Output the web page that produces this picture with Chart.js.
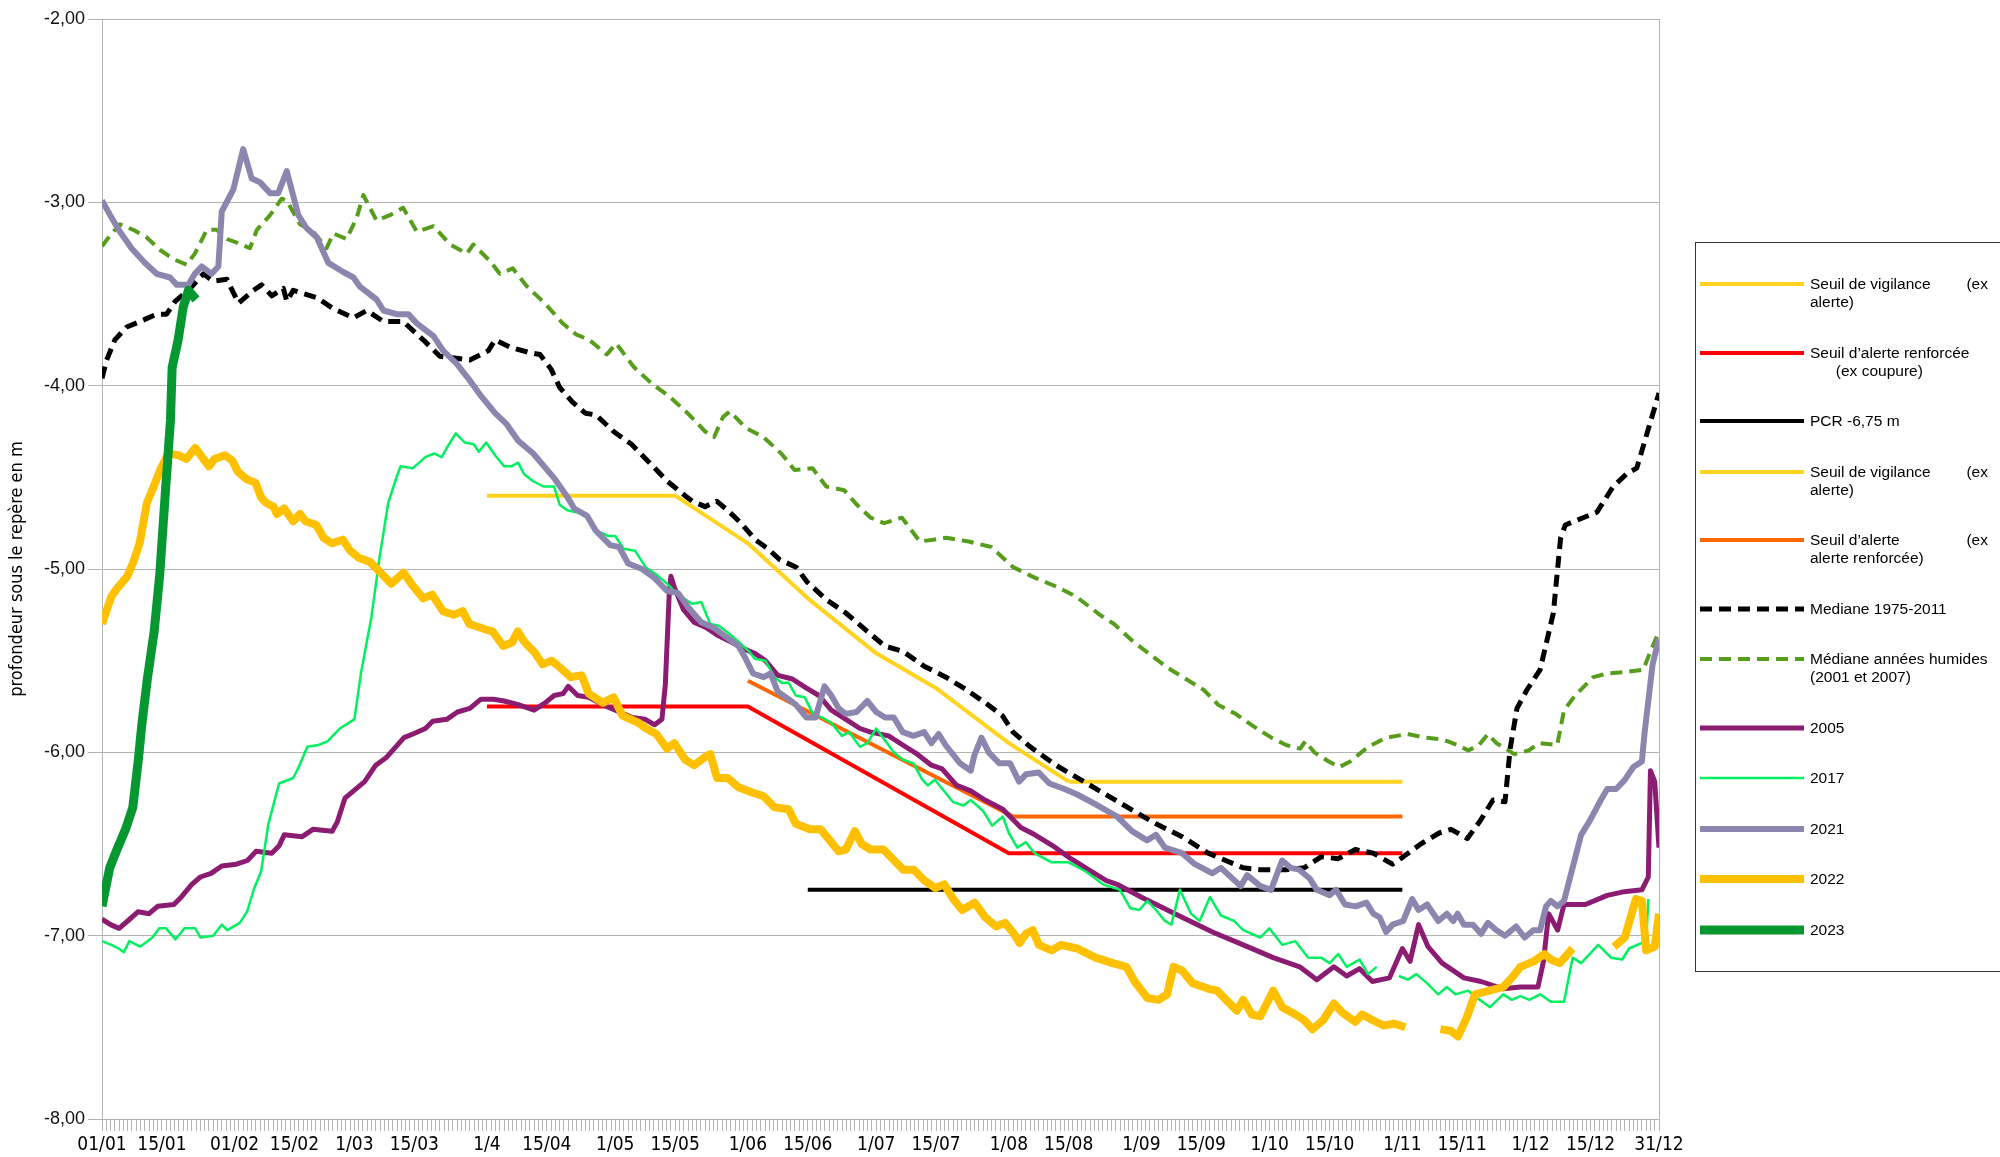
<!DOCTYPE html>
<html lang="fr">
<head>
<meta charset="utf-8">
<title>Profondeur de la nappe</title>
<script src="https://cdn.jsdelivr.net/npm/chart.js@4.4.1/dist/chart.umd.min.js"></script>
<style>
    html, body { margin: 0; padding: 0; background: #fff; }
    #wrap { position: relative; width: 2000px; height: 1157px; overflow: hidden; }
    #chart { position: absolute; left: 0; top: 0; }
    #legend {
        position: absolute; left: 1695px; top: 242px; width: 330px; height: 730px;
        box-sizing: border-box; border: 1px solid #333; padding-top: 32px;
        font-family: 'Liberation Sans', Arial, sans-serif; font-size: 15.5px; color: #000;
    }
    .item { display: flex; align-items: flex-start; margin-bottom: 32.5px; }
    .item svg { margin-left: 4px; margin-right: 6px; flex: none; }
    .txt { width: 178px; line-height: 18px; }
    .txt div { white-space: pre; }
    .txt .split { display: flex; justify-content: space-between; }
</style>
</head>
<body>
<div id="wrap">
    <canvas id="chart" width="2000" height="1157"></canvas>
    <div id="legend"></div>
</div>
<script>
//x axis labels (day of year, 0 = 01/01)
const dayTicks = [0, 14, 31, 45, 59, 73, 90, 104, 120, 134, 151, 165, 181, 195, 212, 226, 243, 257, 273, 287, 304, 318, 334, 348, 364];
const dayLabels = ['01/01', '15/01', '01/02', '15/02', '1/03', '15/03', '1/4', '15/04', '1/05', '15/05', '1/06', '15/06',
    '1/07', '15/07', '1/08', '15/08', '1/09', '15/09', '1/10', '15/10', '1/11', '15/11', '1/12', '15/12', '31/12'];

const seriesLabels = ['Seuil de vigilance (ex alerte)', 'Seuil d’alerte renforcée (ex coupure)', 'PCR -6,75 m',
    'Seuil de vigilance (ex alerte)', 'Seuil d’alerte (ex alerte renforcée)', 'Mediane 1975-2011',
    'Médiane années humides (2001 et 2007)', '2005', '2017', '2021', '2022', '2023'];
//legend text as displayed: | = new line, \t = pushed to the right
const legendText = ['Seuil de vigilance\t(ex|alerte)', 'Seuil d’alerte renforcée|      (ex coupure)', 'PCR -6,75 m',
    'Seuil de vigilance\t(ex|alerte)', 'Seuil d’alerte\t(ex|alerte renforcée)', 'Mediane 1975-2011',
    'Médiane années humides|(2001 et 2007)', '2005', '2017', '2021', '2022', '2023'];

//thresholds [day, m]
const seuilVigilance = [[90, -4.6], [134, -4.6], [151, -4.86], [165, -5.16], [181, -5.46], [195, -5.65], [212, -5.95], [226, -6.16]];
const seuilRenforcee = [[90, -5.75], [151, -5.75], [212, -6.55], [304, -6.55]];
const pcr = [[165, -6.75], [304, -6.75]];
const seuilVigilanceBis = [[226, -6.16], [304, -6.16]];
const seuilAlerte = [[151, -5.61], [213, -6.35], [304, -6.35]];

//medians [day, m]
const mediane7511 = [[0, -3.96], [1.1, -3.86], [3, -3.75], [5.8, -3.68], [8.9, -3.65], [12.8, -3.61], [15.1, -3.61], [17.1, -3.54],
    [20.6, -3.47], [23.7, -3.39], [26, -3.43], [29.2, -3.42], [31.9, -3.55], [35.4, -3.48], [37.3, -3.45], [39.7, -3.51],
    [42.4, -3.47], [43.2, -3.54], [44.7, -3.48], [50.2, -3.52], [54.1, -3.58], [58.8, -3.63], [61.9, -3.59], [65.8, -3.65],
    [70.4, -3.65], [75.1, -3.75], [79, -3.84], [82.9, -3.85], [86, -3.86], [90.3, -3.81], [91.9, -3.75], [95.4, -3.79],
    [100, -3.82], [102.4, -3.83], [105, -3.91], [107, -4.01], [110, -4.09], [113, -4.15], [115.5, -4.16], [119.6, -4.25],
    [123.8, -4.32], [128, -4.42], [132.1, -4.52], [136.3, -4.6], [138, -4.63], [141, -4.66], [143.7, -4.63], [146.3, -4.68],
    [149.4, -4.75], [152.7, -4.84], [155.7, -4.89], [158.5, -4.95], [162.3, -4.99], [164.8, -5.07], [169.5, -5.17],
    [173.9, -5.24], [178.9, -5.34], [183, -5.42], [187.3, -5.45], [192.2, -5.53], [197.3, -5.59], [201.5, -5.65],
    [206.5, -5.73], [210.5, -5.8], [213, -5.89], [217, -5.97], [223, -6.07], [230.3, -6.17], [238.3, -6.28], [246.4, -6.39],
    [252.5, -6.46], [258.6, -6.55], [262.7, -6.59], [266.8, -6.63], [270.8, -6.64], [276.8, -6.64], [281, -6.63], [285, -6.57],
    [289, -6.58], [293, -6.53], [297.2, -6.55], [301.7, -6.61], [304.2, -6.57], [308.3, -6.5], [312.6, -6.44], [315.4, -6.42],
    [319.2, -6.47], [322.3, -6.37], [325.2, -6.26], [328, -6.27], [329.2, -5.98], [330.8, -5.76], [333.1, -5.66], [336.2, -5.55],
    [339.3, -5.24], [341, -4.83], [342.1, -4.76], [349.5, -4.69], [353.3, -4.55], [356.5, -4.48], [358.8, -4.45], [361.2, -4.26],
    [364, -4.04]];
const medianeHumides = [[0, -3.24], [1.9, -3.18], [4.2, -3.12], [7.3, -3.15], [10.4, -3.19], [13.6, -3.26], [16.7, -3.31],
    [19.8, -3.34], [21.7, -3.28], [24.5, -3.15], [26.8, -3.15], [29.2, -3.2], [31.5, -3.22], [34.6, -3.25], [36.2, -3.15],
    [39.3, -3.07], [42, -2.98], [43.2, -2.99], [46.3, -3.12], [49.4, -3.16], [52.5, -3.25], [54.1, -3.17], [57.2, -3.2],
    [59.6, -3.08], [61.1, -2.96], [64.2, -3.1], [67.3, -3.07], [70.4, -3.03], [73.6, -3.16], [77.5, -3.13], [81.4, -3.23],
    [85.3, -3.28], [86.8, -3.23], [90.7, -3.32], [93, -3.39], [96, -3.36], [99.4, -3.46], [103.5, -3.55], [107.7, -3.66],
    [110.8, -3.72], [113.9, -3.75], [118, -3.83], [120.2, -3.77], [124.4, -3.9], [128.6, -3.99], [132.7, -4.06], [136.9, -4.15],
    [141, -4.25], [143.1, -4.28], [145.2, -4.17], [146.8, -4.14], [150.5, -4.23], [154.6, -4.28], [158.8, -4.37], [161.9, -4.46],
    [166.1, -4.45], [169.3, -4.55], [173.5, -4.57], [176.5, -4.65], [179.7, -4.72], [182.8, -4.75], [187, -4.72], [191.2, -4.85],
    [194.3, -4.84], [197.4, -4.83], [202.6, -4.85], [207.9, -4.88], [213, -4.99], [218.3, -5.05], [223.5, -5.1], [227.7, -5.15],
    [233.3, -5.25], [236.6, -5.3], [240.8, -5.39], [244.1, -5.45], [249.2, -5.54], [253.4, -5.6], [257.6, -5.66], [260.9, -5.74],
    [265, -5.79], [269.3, -5.86], [273.4, -5.92], [276.8, -5.96], [280.1, -5.98], [281.3, -5.94], [283.4, -6.0], [286.8, -6.05],
    [289.3, -6.08], [291.8, -6.05], [296, -5.97], [300.2, -5.92], [305.2, -5.9], [309.3, -5.92], [313.5, -5.93], [316.9, -5.96],
    [319.4, -5.99], [321.9, -5.96], [324, -5.9], [326, -5.95], [330.2, -6.01], [333.5, -5.99], [336, -5.95], [340.2, -5.96],
    [341.8, -5.77], [344.4, -5.69], [348.6, -5.59], [351.9, -5.57], [356.9, -5.56], [360.3, -5.55], [362, -5.45], [364, -5.34]];

//years [day, m]
const an2005 = [[0, -6.91], [2, -6.94], [4, -6.96], [6, -6.92], [8.4, -6.87], [11, -6.88], [13, -6.84], [16.8, -6.83], [18.5, -6.79],
    [21, -6.72], [23, -6.68], [25.5, -6.66], [28, -6.62], [31.4, -6.61], [34, -6.59], [36, -6.54], [39.7, -6.55], [41.4, -6.51],
    [42.6, -6.45], [46.8, -6.46], [49.3, -6.42], [53.8, -6.43], [55, -6.38], [56.8, -6.25], [61.4, -6.16], [64, -6.07],
    [66.4, -6.03], [70.6, -5.92], [72.7, -5.9], [75.6, -5.87], [77.3, -5.83], [80.6, -5.82], [83.1, -5.78], [86, -5.76],
    [88.6, -5.71], [91.5, -5.71], [94, -5.72], [97.3, -5.74], [101, -5.77], [103.6, -5.73], [105.7, -5.69], [107.8, -5.68],
    [109, -5.64], [111.2, -5.69], [113.8, -5.7], [117, -5.74], [121, -5.78], [124, -5.81], [127, -5.82], [129.2, -5.85],
    [130.9, -5.82], [131.7, -5.63], [132.6, -5.14], [133, -5.04], [133.8, -5.1], [135.9, -5.22], [138.4, -5.29], [141.3, -5.32],
    [143.8, -5.36], [147.2, -5.4], [150.5, -5.44], [152.6, -5.46], [155.1, -5.5], [158, -5.58], [161.4, -5.6], [164.7, -5.65],
    [167.6, -5.69], [170.5, -5.77], [173.9, -5.82], [177.2, -5.87], [179.7, -5.89], [183.9, -5.91], [187.2, -5.96], [190.6, -6.01],
    [193.9, -6.07], [196.4, -6.09], [199.8, -6.18], [203.1, -6.21], [206.4, -6.26], [210.6, -6.31], [214.8, -6.41], [218.1, -6.45],
    [222.3, -6.51], [226.5, -6.58], [230.6, -6.64], [234.8, -6.7], [237.3, -6.72], [243, -6.79], [252.5, -6.9], [259.6, -6.98],
    [266.8, -7.05], [273.8, -7.12], [280, -7.17], [284, -7.24], [288, -7.17], [291, -7.22], [294, -7.18], [297, -7.25],
    [301, -7.23], [304, -7.07], [305.8, -7.14], [307.8, -6.94], [310, -7.06], [313.3, -7.15], [318.4, -7.23], [322.4, -7.25],
    [327.6, -7.29], [331.6, -7.28], [335.7, -7.28], [337, -7.14], [338.2, -6.88], [340.3, -6.97], [341.8, -6.83], [346.8, -6.83],
    [351.9, -6.78], [355.9, -6.76], [360, -6.75], [361.5, -6.68], [362, -6.1], [363, -6.16], [364, -6.52]];
const an2017 = [[0, -7.03], [2.2, -7.05], [3.9, -7.07], [5.1, -7.09], [6.4, -7.03], [8.9, -7.06], [11.8, -7.01], [13.4, -6.96],
    [15, -6.96], [17.2, -7.02], [19.3, -6.96], [21.8, -6.96], [23, -7.01], [26, -7.0], [28, -6.94], [29.3, -6.97], [32.2, -6.93],
    [33.9, -6.87], [35.6, -6.74], [37.2, -6.65], [38.9, -6.39], [41.4, -6.17], [44.7, -6.14], [46, -6.08], [48, -5.97],
    [50.6, -5.96], [52.7, -5.94], [55.6, -5.87], [59, -5.82], [60.6, -5.56], [63, -5.26], [64.8, -4.95], [66.9, -4.64],
    [69, -4.49], [69.8, -4.44], [72.7, -4.45], [75.6, -4.39], [77.7, -4.37], [79.4, -4.39], [80.6, -4.34], [82.7, -4.26],
    [84.8, -4.31], [86.9, -4.32], [88.1, -4.36], [89.8, -4.31], [91.9, -4.38], [94, -4.44], [95.7, -4.44], [97.3, -4.42],
    [98.6, -4.48], [100.7, -4.52], [103.2, -4.55], [105.7, -4.55], [107, -4.65], [108.8, -4.68], [110.9, -4.69], [113, -4.71],
    [115.4, -4.79], [118.4, -4.82], [120, -4.82], [122, -4.89], [124.6, -4.9], [127.1, -4.99], [129.6, -5.03], [132.1, -5.08],
    [134.6, -5.14], [138, -5.19], [140.1, -5.18], [142.2, -5.3], [144.2, -5.31], [145.9, -5.34], [148, -5.38], [151.3, -5.45],
    [152.6, -5.49], [155.1, -5.5], [157.2, -5.59], [158.9, -5.62], [160.5, -5.62], [162.2, -5.69], [164.3, -5.7], [166.4, -5.8],
    [168.4, -5.81], [170.5, -5.84], [173, -5.91], [174.7, -5.89], [177.2, -5.97], [178.9, -5.95], [181, -5.87], [182.6, -5.92],
    [185.1, -6.0], [187.2, -6.04], [189.7, -6.06], [191.8, -6.15], [193.1, -6.18], [194.7, -6.15], [196.8, -6.21], [198.9, -6.27],
    [201.4, -6.29], [203.1, -6.26], [206, -6.32], [208.1, -6.4], [210.6, -6.35], [212, -6.44], [214, -6.52], [216, -6.49],
    [218, -6.55], [222, -6.6], [226, -6.6], [230, -6.65], [234, -6.72], [238, -6.75], [240.4, -6.85], [242.5, -6.86],
    [244.4, -6.81], [246.4, -6.86], [248.5, -6.92], [250, -6.94], [252, -6.75], [254.6, -6.88], [256.6, -6.92], [259, -6.79],
    [261.6, -6.89], [264.7, -6.92], [266.8, -6.97], [270.8, -7.01], [272.9, -6.96], [275.9, -7.05], [279, -7.03], [282, -7.12],
    [285, -7.12], [287, -7.15], [289, -7.1], [291, -7.17], [294, -7.13], [296, -7.21], [298, -7.17], [300, null], [303.2, -7.22],
    [305.3, -7.24], [307.3, -7.21], [309.8, -7.26], [312.4, -7.32], [314.4, -7.28], [316.4, -7.32], [319.4, -7.3], [321.5, -7.34],
    [324.5, -7.39], [327.6, -7.32], [329.6, -7.35], [331.6, -7.33], [333.7, -7.35], [336.2, -7.32], [338.7, -7.36], [341.8, -7.36],
    [343.8, -7.12], [345.8, -7.15], [349.8, -7.05], [352.8, -7.12], [355.4, -7.13], [357, -7.07], [361, -7.03], [361.5, -6.8]];
const an2021 = [[0, -2.99], [1.9, -3.07], [4.2, -3.16], [6.9, -3.25], [10, -3.33], [12.8, -3.39], [15.9, -3.41], [17.5, -3.45],
    [20.2, -3.45], [21.7, -3.39], [23.3, -3.35], [25.6, -3.39], [27.2, -3.35], [28, -3.05], [30.7, -2.93], [33, -2.71], [35, -2.87],
    [36.9, -2.89], [39.3, -2.95], [41.2, -2.95], [43.2, -2.83], [45.9, -3.07], [47.8, -3.14], [50.2, -3.19], [52.9, -3.33],
    [56.4, -3.38], [58.8, -3.41], [60.3, -3.46], [64.2, -3.53], [65.8, -3.59], [68.9, -3.61], [71.6, -3.61], [73.6, -3.66],
    [77.5, -3.73], [79.8, -3.81], [82.9, -3.88], [85.6, -3.96], [88.4, -4.05], [91.9, -4.15], [94.6, -4.21], [97.3, -4.3],
    [100.8, -4.37], [105.9, -4.51], [108.6, -4.6], [110.4, -4.67], [113.4, -4.71], [115.4, -4.79], [118.8, -4.87], [120.9, -4.88],
    [123, -4.97], [126.3, -5.0], [129.2, -5.05], [132.1, -5.12], [134.6, -5.13], [137.1, -5.21], [140.1, -5.29], [143, -5.32],
    [145.9, -5.37], [148.8, -5.42], [150.5, -5.49], [152.2, -5.57], [154.7, -5.59], [156.3, -5.57], [158, -5.67], [160.5, -5.71],
    [162.2, -5.74], [164.7, -5.81], [166.8, -5.81], [168.9, -5.64], [170.5, -5.69], [172.2, -5.76], [173.9, -5.79], [176.4, -5.78],
    [178.9, -5.72], [181, -5.78], [183.1, -5.81], [185.1, -5.81], [187.2, -5.89], [189.7, -5.91], [192.2, -5.89], [193.9, -5.95],
    [195.6, -5.9], [197.2, -5.96], [200.6, -6.06], [203.1, -6.1], [203.9, -6.02], [205.6, -5.92], [207.3, -6.0], [209.8, -6.06],
    [212.3, -6.06], [214.4, -6.16], [216, -6.12], [219, -6.11], [221.5, -6.17], [225, -6.2], [228, -6.23], [232, -6.28],
    [237.3, -6.35], [240.8, -6.43], [244.3, -6.48], [246.4, -6.45], [248.5, -6.52], [252.5, -6.55], [255.5, -6.61], [259.6, -6.66],
    [261.6, -6.63], [266.2, -6.73], [267.7, -6.67], [270.8, -6.73], [273.3, -6.75], [275.9, -6.59], [277.9, -6.63], [279.9, -6.64],
    [282.4, -6.69], [284, -6.75], [287, -6.78], [288.5, -6.75], [290.6, -6.83], [293.1, -6.84], [295.6, -6.82], [297.2, -6.88],
    [298.7, -6.9], [300.2, -6.98], [301.7, -6.94], [304.2, -6.92], [306.3, -6.8], [307.8, -6.86], [309.8, -6.83], [312.4, -6.92],
    [314.4, -6.88], [315.9, -6.92], [316.9, -6.88], [318.4, -6.94], [320.5, -6.94], [322.4, -6.99], [324, -6.93], [326, -6.97],
    [328, -7.0], [330.6, -6.95], [332.6, -7.01], [334.6, -6.97], [336.2, -6.97], [337.6, -6.84], [338.7, -6.81], [340.3, -6.84],
    [341.8, -6.81], [343.8, -6.63], [345.8, -6.45], [347.9, -6.37], [350.4, -6.26], [351.9, -6.2], [354, -6.2], [356, -6.15],
    [358, -6.08], [360, -6.05], [360.6, -5.9], [361.5, -5.72], [362.5, -5.52], [364, -5.38]];
const an2022 = [[0, -5.3], [2.2, -5.15], [3.4, -5.11], [5.9, -5.04], [7.2, -4.97], [8.8, -4.86], [10.5, -4.64], [12.6, -4.52],
    [13.8, -4.45], [15.5, -4.37], [18, -4.38], [19.7, -4.4], [21.8, -4.34], [23.4, -4.39], [25, -4.44], [26.3, -4.4], [28.8, -4.38],
    [30.5, -4.41], [31.8, -4.47], [33.8, -4.51], [35.9, -4.53], [37.2, -4.61], [38.4, -4.64], [40.1, -4.66], [40.9, -4.7],
    [42.6, -4.67], [44.7, -4.74], [46.3, -4.7], [47.6, -4.74], [50.1, -4.76], [51.8, -4.83], [53.8, -4.86], [56.3, -4.84],
    [58, -4.9], [60.1, -4.94], [62.6, -4.96], [64.7, -5.01], [67.6, -5.08], [70.5, -5.02], [72.6, -5.09], [75.1, -5.16],
    [77.2, -5.14], [79.7, -5.23], [82.2, -5.25], [84.3, -5.23], [85.9, -5.3], [89.7, -5.33], [91.3, -5.34], [93.8, -5.42],
    [95.9, -5.4], [97.2, -5.34], [98.8, -5.4], [101.3, -5.46], [103, -5.52], [105.1, -5.5], [107.2, -5.54], [109.6, -5.59],
    [112.1, -5.58], [113.8, -5.68], [117.1, -5.73], [119.6, -5.7], [121.7, -5.8], [125.5, -5.84], [127.2, -5.87], [129.6, -5.9],
    [132.1, -5.98], [133.8, -5.95], [136.3, -6.04], [138.4, -6.07], [141.3, -6.02], [142.2, -6.01], [143.8, -6.14], [146.3, -6.14],
    [148.8, -6.19], [152.2, -6.22], [154.7, -6.24], [157.2, -6.3], [160.5, -6.31], [162.2, -6.39], [165.5, -6.42], [168, -6.42],
    [170.5, -6.49], [172.2, -6.54], [173.9, -6.53], [176, -6.43], [177.6, -6.5], [179.7, -6.53], [182.7, -6.53], [185.2, -6.59],
    [187.3, -6.64], [189.8, -6.64], [192.3, -6.7], [194.8, -6.74], [196.9, -6.72], [199, -6.8], [201.1, -6.86], [204, -6.82],
    [206.5, -6.9], [209, -6.95], [211.1, -6.93], [213.2, -6.99], [214.5, -7.04], [216, -6.99], [217.6, -6.97], [219, -7.05],
    [222, -7.08], [224.2, -7.05], [228, -7.07], [232.3, -7.12], [236.3, -7.15], [239.5, -7.17], [241.4, -7.25], [244.4, -7.34],
    [247, -7.35], [249, -7.32], [250.5, -7.17], [252.5, -7.19], [255, -7.26], [258.7, -7.29], [260.7, -7.3], [262.8, -7.35],
    [265.3, -7.41], [266.8, -7.35], [268.8, -7.43], [270.8, -7.44], [273.8, -7.3], [275.9, -7.39], [279, -7.43], [281, -7.46],
    [283, -7.51], [285.5, -7.46], [288, -7.37], [290, -7.42], [293, -7.47], [294.6, -7.43], [297, -7.46], [299.6, -7.49],
    [302.2, -7.48], [304.7, -7.5], [308, null], [312.9, -7.51], [315.4, -7.52], [317, -7.55], [319, -7.45], [321, -7.32],
    [327.6, -7.28], [329.6, -7.23], [331.6, -7.17], [334.7, -7.14], [337.2, -7.1], [338.7, -7.13], [340.8, -7.15], [343.8, -7.07],
    [348, null], [353.5, -7.06], [356, -7.01], [358.6, -6.8], [360, -6.81], [361, -7.08], [363, -7.06], [364, -6.88]];
const an2023 = [[0, -6.84], [1.8, -6.63], [3.5, -6.53], [5.5, -6.42], [7.2, -6.3], [8.5, -6.04], [9.3, -5.85], [10.6, -5.6],
    [12.2, -5.34], [13.5, -5.03], [14.7, -4.62], [16, -4.19], [16.4, -3.9], [17.8, -3.75], [19, -3.57], [20.2, -3.48], [22, -3.53]];

const seriesData = [seuilVigilance, seuilRenforcee, pcr, seuilVigilanceBis, seuilAlerte, mediane7511, medianeHumides,
    an2005, an2017, an2021, an2022, an2023];
const seriesColors = ['#FFD320', '#FF0000', '#000000', '#FFD320', '#FF6600', '#000000', '#579D1C',
    '#8B1C71', '#00F060', '#8C86AE', '#FFC000', '#079731'];
const seriesWidths = [4, 4, 4, 4, 4, 5, 4, 5, 2.5, 6, 8, 9];
const seriesDashes = [[], [], [], [], [], [12, 7], [12, 7], [], [], [], [], []];

const narrow = "'Liberation Sans Narrow', 'DejaVu Sans Condensed', 'Liberation Sans', sans-serif";
const allDays = Array.from({length: 365}, (v, i) => i);

//right border of the plot
const frame = {
    id: 'frame',
    beforeDatasetsDraw(chart) {
        const {ctx, chartArea: a} = chart;
        ctx.save();
        ctx.strokeStyle = '#b3b3b3';
        ctx.lineWidth = 1;
        ctx.beginPath();
        ctx.moveTo(Math.round(a.right) + 0.5, a.top);
        ctx.lineTo(Math.round(a.right) + 0.5, a.bottom);
        ctx.stroke();
        ctx.restore();
    }
};

let datasets = seriesData.map(function (rows, i) {
    return {
        label: seriesLabels[i],
        data: rows.map(r => ({x: r[0], y: r[1]})),
        borderColor: seriesColors[i],
        backgroundColor: seriesColors[i],
        borderWidth: seriesWidths[i],
        borderDash: seriesDashes[i],
        order: seriesData.length - i,
        spanGaps: false
    };
});

let chart = new Chart(document.getElementById('chart'), {
    type: 'line',
    data: {datasets},
    options: {
        responsive: false,
        animation: false,
        layout: {padding: {top: 19, right: 341, left: 0, bottom: 0}},
        elements: {
            point: {radius: 0},
            line: {tension: 0, borderJoinStyle: 'round', borderCapStyle: 'butt'}
        },
        plugins: {legend: {display: false}, tooltip: {enabled: false}},
        scales: {
            x: {
                type: 'linear', min: 0, max: 364,
                afterBuildTicks: function (scale) {
                    scale.ticks = allDays.map(v => ({value: v}));
                },
                ticks: {
                    autoSkip: false, maxRotation: 0, padding: 3, color: '#000',
                    font: {family: narrow, size: 19},
                    callback: function (v) {
                        let k = dayTicks.indexOf(v);
                        return k >= 0 ? dayLabels[k] : '';
                    }
                },
                grid: {drawOnChartArea: false, drawTicks: true, tickLength: 12, color: '#b3b3b3'},
                border: {color: '#b3b3b3'},
                afterFit: function (scale) { scale.height = 38; }
            },
            y: {
                min: -8, max: -2,
                ticks: {
                    stepSize: 1, padding: 3, color: '#111',
                    font: {family: "'Liberation Sans', Arial, sans-serif", size: 18},
                    callback: v => v.toFixed(2).replace('.', ',')
                },
                grid: {color: '#b3b3b3', tickLength: 14},
                border: {color: '#b3b3b3'},
                title: {
                    display: true, text: 'profondeur sous le repère en m', color: '#000',
                    font: {family: narrow, size: 18}, padding: {top: 7, bottom: 0}
                },
                afterFit: function (scale) { scale.width = 102; }
            }
        }
    },
    plugins: [frame]
});

//html legend, drawn from the datasets
function buildLegend() {
    let box = document.getElementById('legend');
    chart.data.datasets.forEach(function (ds, i) {
        let item = document.createElement('div');
        item.className = 'item';
        let dash = ds.borderDash.length ? ' stroke-dasharray="' + ds.borderDash.join(' ') + '"' : '';
        item.innerHTML = '<svg width="104" height="18"><line x1="0" y1="9" x2="104" y2="9" stroke="' + ds.borderColor +
            '" stroke-width="' + ds.borderWidth + '"' + dash + '/></svg>';
        let txt = document.createElement('div');
        txt.className = 'txt';
        legendText[i].split('|').forEach(function (line) {
            let row = document.createElement('div');
            if (line.indexOf('\t') >= 0) {
                row.className = 'split';
                line.split('\t').forEach(function (part) {
                    let s = document.createElement('span');
                    s.textContent = part;
                    row.appendChild(s);
                });
            } else {
                row.textContent = line;
            }
            txt.appendChild(row);
        });
        item.appendChild(txt);
        box.appendChild(item);
    });
}
buildLegend();
</script>
</body>
</html>
